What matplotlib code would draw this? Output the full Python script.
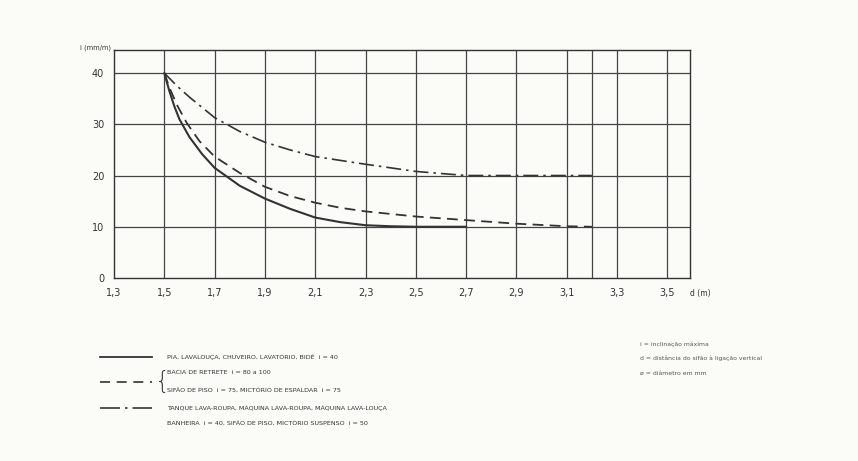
import matplotlib.pyplot as plt
from matplotlib.lines import Line2D

# curve data: d (m) vs i (mm/m)
d_solid = [1.5, 1.52, 1.54, 1.56, 1.6, 1.65, 1.7, 1.8, 1.9, 2.0, 2.1, 2.2, 2.3, 2.4, 2.5, 2.7]
i_solid = [40, 36.5, 33.5, 31, 27.5, 24.2, 21.5, 18, 15.5, 13.5, 11.8, 10.9, 10.3, 10.1, 10, 10]

d_dashed = [1.5, 1.52, 1.55, 1.59, 1.64, 1.7, 1.8, 1.9, 2.0, 2.1, 2.2, 2.3, 2.5, 2.7, 2.9, 3.1, 3.2]
i_dashed = [40, 37.2, 33.8, 30.2, 26.7, 23.7, 20.5, 17.8, 16, 14.7, 13.7, 13, 12, 11.3, 10.6, 10.1, 10]

d_dashdot = [1.5, 1.55, 1.6, 1.7, 1.8, 1.9, 2.0, 2.1, 2.3, 2.5, 2.7, 2.9, 3.1, 3.2]
i_dashdot = [40, 37.5, 35.3, 31.3, 28.6, 26.5, 25, 23.7, 22.2, 20.8, 20, 20, 20, 20]

x_ticks = [1.3, 1.5, 1.7, 1.9, 2.1, 2.3, 2.5, 2.7, 2.9, 3.1, 3.3, 3.5]
x_labels = ["1,3", "1,5", "1,7", "1,9", "2,1", "2,3", "2,5", "2,7", "2,9", "3,1", "3,3", "3,5"]
x_extra_grid = [3.2]
y_ticks = [0, 10, 20, 30, 40]

legend_rows = [
    "PIA, LAVALOUÇA, CHUVEIRO, LAVATÓRIO, BIDÊ  i = 40",
    "BACIA DE RETRETE  i = 80 a 100",
    "SIFÃO DE PISO  i = 75, MICTÓRIO DE ESPALDAR  i = 75",
    "TANQUE LAVA-ROUPA, MÁQUINA LAVA-ROUPA, MÁQUINA LAVA-LOUÇA",
    "BANHEIRA  i = 40, SIFÃO DE PISO, MICTÓRIO SUSPENSO  i = 50",
]
notes = [
    "i = inclinação máxima",
    "d = distância do sifão à ligação vertical",
    "ø = diâmetro em mm",
]

ink = "#333333"
paper = "#fbfbf7"

fig = plt.figure(figsize=(8.58, 4.61), dpi=100, facecolor=paper)
W, H = 858, 461


def fx(px):
    return px / W


def fy(py):
    return 1 - py / H


ax = fig.add_axes([fx(114), fy(278), fx(690) - fx(114), fy(50) - fy(278)])
ax.set_facecolor(paper)

ax.plot(d_solid, i_solid, color=ink, lw=1.5, solid_capstyle="round", solid_joinstyle="round")
ax.plot(d_dashed, i_dashed, color=ink, lw=1.3, dashes=(6, 3.5))
ax.plot(d_dashdot, i_dashdot, color=ink, lw=1.2, dashes=(9, 3, 1.5, 3))

ax.set_xlim(1.3, 3.59)
ax.set_ylim(0, 44.5)

for xv in x_ticks[1:] + x_extra_grid:
    ax.axvline(xv, color="#444444", lw=0.9, zorder=0)
for yv in y_ticks[1:]:
    ax.axhline(yv, color="#444444", lw=0.9, zorder=0)

ax.set_xticks(x_ticks)
ax.set_xticklabels(x_labels)
ax.set_yticks(y_ticks)
ax.tick_params(length=0, labelsize=7, colors=ink, pad=7)
for s in ax.spines.values():
    s.set_color(ink)
    s.set_linewidth(1.0)

fig.text(fx(111), fy(48), "i (mm/m)", fontsize=4.8, color=ink, ha="right", va="center")
fig.text(fx(690), fy(293), "d (m)", fontsize=5.5, color=ink, ha="left", va="center")

# legend swatches
fig.add_artist(Line2D([fx(100), fx(152)], [fy(357), fy(357)], color=ink, lw=1.3))
fig.add_artist(Line2D([fx(100), fx(152)], [fy(382), fy(382)], color=ink, lw=1.2, dashes=(6, 4)))
fig.add_artist(Line2D([fx(100), fx(152)], [fy(408), fy(408)], color=ink, lw=1.2, dashes=(12, 3, 1.5, 3)))
fig.text(fx(155), fy(382), "{", fontsize=17, color=ink, ha="left", va="center",
         fontweight="light")

row_y = [357, 372, 391, 408, 424]
for txt, ry in zip(legend_rows, row_y):
    fig.text(fx(167), fy(ry), txt, fontsize=4.6, color=ink, ha="left", va="center")

note_y = [344, 358, 373]
for txt, ny in zip(notes, note_y):
    fig.text(fx(640), fy(ny), txt, fontsize=4.4, color="#555555", ha="left", va="center")

fig.savefig("out.png", dpi=100, facecolor=paper)
